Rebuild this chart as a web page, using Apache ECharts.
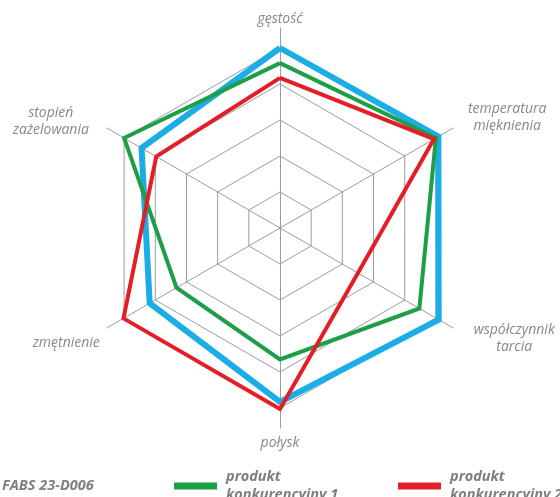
<!DOCTYPE html>
<html>
<head>
<meta charset="utf-8">
<script src="https://cdn.jsdelivr.net/npm/echarts@6/dist/echarts.min.js"></script>
<style>
html,body{margin:0;padding:0;background:#fff;}
#chart{width:560px;height:497px;}
</style>
</head>
<body>
<div id="chart"></div>
<script>
// Indicators (ECharts radar runs counter-clockwise from the top)
const indicatorNames = ['gęstość', 'stopień\nzażelowania', 'zmętnienie', 'połysk', 'współczynnik\ntarcia', 'temperatura\nmięknienia'];
// Values in units of grid rings (5 rings)
const seriesNames = ['FABS 23-D006', 'produkt\nkonkurencyjny 1', 'produkt\nkonkurencyjny 2'];
const fabsValues = [5.0, 4.44, 4.18, 4.83, 5.09, 5.08];
const konk1Values = [4.58, 5.0, 3.32, 3.65, 4.47, 5.0];
const konk2Values = [4.17, 3.97, 5.02, 5.03, 2.5, 4.94];
const ringMax = 5;

const colors = ['#1badE5', '#1f9e48', '#e31e26'];
const widths = [6, 4, 4];

const RING_R = 180, AXIS_R = 200;
const axisMax = ringMax * AXIS_R / RING_R;

// label layout tweaks
const nameLayout = {
  'gęstość': {w: 0, padL: 0, padR: 0, dy: 0, va: 'bottom'},
  'temperatura\nmięknienia': {w: 84, padL: 12, padR: 0, dy: -10, va: 'middle'},
  'współczynnik\ntarcia': {w: 88, padL: 17, padR: 0, dy: 11, va: 'middle'},
  'połysk': {w: 0, padL: 0, padR: 0, dy: 7, va: 'top'},
  'zmętnienie': {w: 0, padL: 0, padR: 7, dy: 15, va: 'middle'},
  'stopień\nzażelowania': {w: 82, padL: 0, padR: 15, dy: -6, va: 'middle'}
};

const baseText = {fontFamily: 'Open Sans', fontStyle: 'italic', fontSize: 14, color: '#888888', lineHeight: 17};
const rich = {};
let k = 0;
function buildName(name) {
  const c = nameLayout[name];
  const key = 'n' + (k++);
  rich[key] = Object.assign({}, baseText, {padding: [0, c.padR, 0, c.padL]});
  if (c.w) { rich[key].width = c.w; rich[key].align = 'center'; }
  let lines = name.split('\n').map(l => '{' + key + '|' + l + '}');
  if (c.dy) {
    const h = c.va === 'middle' ? Math.abs(c.dy) * 2 : Math.abs(c.dy);
    const sk = 'sp' + key;
    rich[sk] = {fontSize: 1, lineHeight: h, height: h};
    const sp = '{' + sk + '| }';
    if (c.dy > 0) lines.unshift(sp); else lines.push(sp);
  }
  return lines.join('\n');
}
const formattedNames = {};
indicatorNames.forEach(n => { formattedNames[n] = buildName(n); });

const chart = echarts.init(document.getElementById('chart'), null, {renderer: 'canvas'});
chart.setOption({
  animation: false,
  color: colors,
  legend: {
    data: seriesNames,
    left: -50,
    top: 468,
    width: 900,
    padding: 0,
    itemWidth: 43,
    itemHeight: 7,
    itemGap: 22,
    icon: 'rect',
    selectedMode: false,
    textStyle: {fontFamily: 'Open Sans', fontStyle: 'italic', fontWeight: 'bold', fontSize: 14.5,
      color: '#7f7f7f', lineHeight: 18, width: 150, padding: [0, 0, 0, 4]}
  },
  radar: [
    {
      center: [280, 228],
      radius: RING_R,
      startAngle: 90,
      splitNumber: 5,
      shape: 'polygon',
      indicator: indicatorNames.map(n => ({name: n, min: 0, max: ringMax})),
      axisName: {show: false},
      axisLine: {show: false},
      axisTick: {show: false},
      axisLabel: {show: false},
      splitArea: {show: false},
      splitLine: {lineStyle: {color: '#9c9c9c', width: 1}}
    },
    {
      center: [280, 228],
      radius: AXIS_R,
      startAngle: 90,
      splitNumber: 1,
      shape: 'polygon',
      nameGap: 0,
      indicator: indicatorNames.map(n => ({name: n, min: 0, max: axisMax})),
      axisName: {
        show: true,
        formatter: function (v) { return formattedNames[v]; },
        rich: rich,
        fontFamily: 'Open Sans', fontStyle: 'italic', fontSize: 14, color: '#888888'
      },
      axisLine: {show: true, lineStyle: {color: '#9c9c9c', width: 1}},
      axisTick: {show: false},
      axisLabel: {show: false},
      splitArea: {show: false},
      splitLine: {show: false}
    }
  ],
  series: [
    {
      type: 'radar',
      radarIndex: 1,
      symbol: 'none',
      data: [
        {name: seriesNames[0], value: fabsValues, lineStyle: {color: colors[0], width: widths[0], join: 'miter'}, itemStyle: {color: colors[0]}}
      ],
      z: 2
    },
    {
      type: 'radar',
      radarIndex: 1,
      symbol: 'none',
      data: [
        {name: seriesNames[1], value: konk1Values, lineStyle: {color: colors[1], width: widths[1], join: 'miter'}, itemStyle: {color: colors[1]}}
      ],
      z: 3
    },
    {
      type: 'radar',
      radarIndex: 1,
      symbol: 'none',
      data: [
        {name: seriesNames[2], value: konk2Values, lineStyle: {color: colors[2], width: widths[2], join: 'miter'}, itemStyle: {color: colors[2]}}
      ],
      z: 4
    }
  ]
});
</script>
</body>
</html>
